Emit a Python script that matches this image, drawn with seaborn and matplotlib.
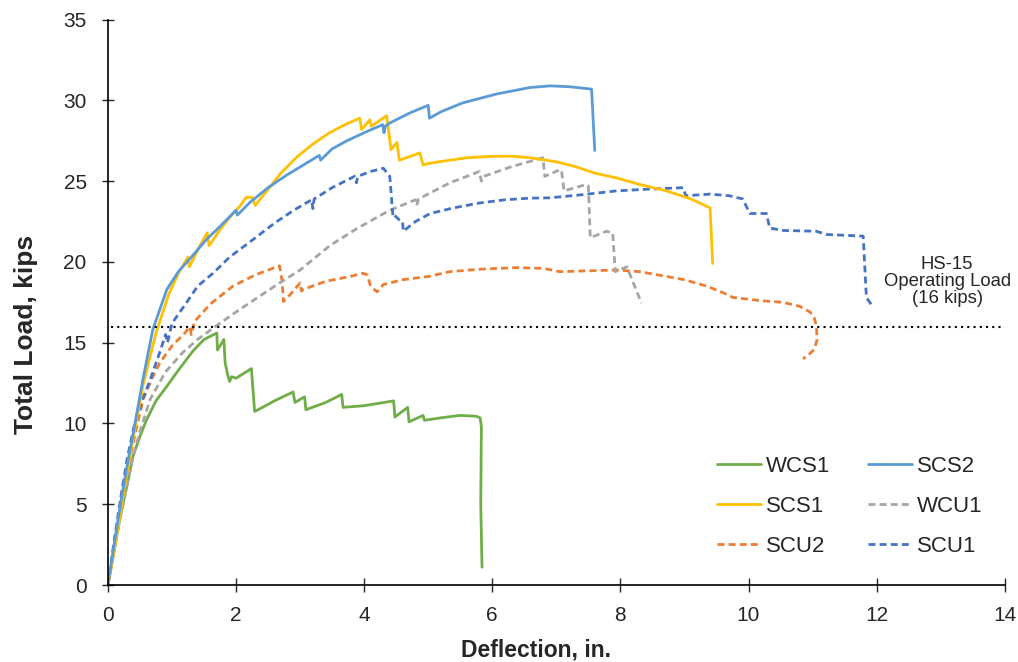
import matplotlib
matplotlib.use("Agg")
import matplotlib.pyplot as plt
import seaborn as sns
import pandas as pd

sns.set_theme(style="white")
plt.rcParams['font.family'] = ['Liberation Sans', 'DejaVu Sans']

# ---- data (deflection in., total load kips) ----
wcs1_x = [0, 0.1, 0.19, 0.3, 0.39, 0.5, 0.6, 0.75, 0.92, 1.1, 1.33, 1.5, 1.70, 1.71, 1.78, 1.81, 1.83, 1.87, 1.9, 1.93, 2.0, 2.24, 2.29, 2.32, 2.6, 2.89, 2.92, 3.07, 3.09, 3.4, 3.65, 3.67, 4.0, 4.4, 4.46, 4.48, 4.68, 4.70, 4.92, 4.94, 5.2, 5.49, 5.75, 5.81, 5.83, 5.82, 5.84]
wcs1_y = [0, 2.2, 4.2, 6.2, 7.95, 9.2, 10.2, 11.4, 12.3, 13.3, 14.5, 15.2, 15.6, 14.55, 15.0, 15.2, 13.75, 13.0, 12.6, 12.9, 12.8, 13.4, 10.75, 10.8, 11.4, 11.95, 11.3, 11.65, 10.85, 11.3, 11.8, 11.0, 11.1, 11.36, 11.4, 10.4, 11.0, 10.1, 10.5, 10.2, 10.35, 10.5, 10.45, 10.35, 9.8, 5.0, 1.1]

scs2_x = [0, 0.1, 0.2, 0.3, 0.4, 0.55, 0.7, 0.92, 1.1, 1.28, 1.54, 1.75, 1.9, 2.0, 2.02, 2.22, 2.5, 2.8, 3.05, 3.3, 3.32, 3.5, 3.73, 4.0, 4.29, 4.31, 4.33, 4.40, 4.7, 5.0, 5.02, 5.2, 5.54, 6.07, 6.59, 6.9, 7.2, 7.55, 7.6]
scs2_y = [0, 2.6, 5.1, 7.4, 9.5, 12.8, 15.8, 18.3, 19.4, 20.2, 21.4, 22.2, 22.8, 23.2, 22.9, 23.7, 24.6, 25.4, 26.0, 26.6, 26.3, 27.0, 27.5, 28.0, 28.5, 28.0, 28.4, 28.6, 29.2, 29.7, 28.9, 29.3, 29.85, 30.4, 30.8, 30.9, 30.85, 30.7, 26.9]

scs1_x = [0, 0.1, 0.2, 0.3, 0.4, 0.55, 0.75, 0.95, 1.1, 1.25, 1.27, 1.45, 1.55, 1.58, 1.75, 1.95, 2.05, 2.16, 2.25, 2.3, 2.5, 2.7, 2.95, 3.2, 3.46, 3.7, 3.93, 3.96, 4.09, 4.11, 4.35, 4.42, 4.51, 4.55, 4.87, 4.92, 5.0, 5.34, 5.6, 6.0, 6.3, 6.6, 7.0, 7.3, 7.6, 7.94, 8.3, 8.72, 9.1, 9.40, 9.44]
scs1_y = [0, 2.2, 4.6, 7.0, 9.2, 12.4, 15.6, 18.0, 19.3, 20.3, 19.7, 21.1, 21.8, 21.0, 22.0, 23.0, 23.4, 24.0, 24.0, 23.5, 24.5, 25.5, 26.5, 27.3, 28.0, 28.5, 28.9, 28.2, 28.8, 28.4, 29.05, 26.95, 27.4, 26.3, 26.75, 26.0, 26.1, 26.3, 26.45, 26.54, 26.55, 26.45, 26.2, 25.9, 25.5, 25.2, 24.8, 24.4, 23.9, 23.35, 19.9]

wcu1_x = [0, 0.1, 0.2, 0.3, 0.39, 0.5, 0.66, 0.9, 1.17, 1.4, 1.64, 2.0, 2.3, 2.68, 3.0, 3.46, 3.9, 4.4, 4.8, 4.82, 4.85, 5.34, 5.8, 5.83, 5.87, 6.3, 6.79, 6.82, 7.05, 7.08, 7.12, 7.47, 7.5, 7.53, 7.78, 7.88, 7.92, 8.1, 8.33]
wcu1_y = [0, 2.2, 4.3, 6.2, 7.9, 9.5, 11.5, 13.2, 14.4, 15.2, 15.9, 16.9, 17.7, 18.7, 19.5, 21.0, 22.1, 23.2, 23.85, 23.5, 23.9, 24.9, 25.6, 25.0, 25.3, 25.9, 26.45, 25.3, 25.7, 25.7, 24.4, 24.8, 24.7, 21.5, 21.9, 21.8, 19.4, 19.7, 17.45]

scu2_x = [0, 0.1, 0.2, 0.29, 0.4, 0.55, 0.7, 0.81, 1.0, 1.2, 1.28, 1.3, 1.35, 1.6, 1.95, 2.3, 2.68, 2.72, 2.74, 2.85, 3.0, 3.02, 3.05, 3.4, 3.78, 3.98, 4.05, 4.1, 4.2, 4.3, 4.6, 5.0, 5.34, 5.8, 6.38, 6.8, 7.05, 7.5, 7.94, 8.3, 8.72, 9.0, 9.35, 9.6, 9.76, 10.2, 10.54, 10.8, 10.96, 11.03, 11.06, 11.07, 11.03, 10.95, 10.85]
scu2_y = [0, 2.4, 4.8, 6.9, 8.9, 11.5, 12.9, 13.75, 14.8, 15.6, 16.0, 15.5, 16.3, 17.4, 18.5, 19.2, 19.76, 18.8, 17.55, 18.0, 18.7, 18.2, 18.3, 18.8, 19.1, 19.3, 19.2, 18.5, 18.15, 18.6, 18.9, 19.1, 19.4, 19.55, 19.65, 19.6, 19.4, 19.45, 19.5, 19.4, 19.1, 18.9, 18.5, 18.1, 17.8, 17.6, 17.5, 17.25, 16.9, 16.5, 16.0, 15.2, 14.6, 14.3, 14.0]

scu1_x = [0, 0.1, 0.2, 0.3, 0.4, 0.55, 0.66, 0.8, 0.9, 0.93, 1.0, 1.23, 1.4, 1.64, 1.9, 2.27, 2.6, 2.9, 3.18, 3.2, 3.22, 3.5, 3.85, 3.88, 3.9, 4.1, 4.3, 4.4, 4.45, 4.47, 4.55, 4.6, 4.61, 4.8, 5.03, 5.4, 5.8, 6.2, 6.59, 6.9, 7.37, 7.94, 8.4, 8.98, 9.02, 9.4, 9.7, 9.91, 10.02, 10.28, 10.33, 10.54, 11.06, 11.22, 11.79, 11.84, 11.92]
scu1_y = [0, 2.8, 5.4, 7.8, 9.7, 11.6, 12.7, 14.3, 15.5, 15.0, 16.2, 17.5, 18.5, 19.3, 20.3, 21.4, 22.4, 23.2, 23.85, 23.3, 23.9, 24.6, 25.3, 24.9, 25.3, 25.6, 25.8, 25.3, 22.8, 22.9, 22.6, 22.5, 21.9, 22.5, 23.0, 23.35, 23.65, 23.85, 23.95, 23.97, 24.15, 24.4, 24.5, 24.6, 24.1, 24.2, 24.1, 23.9, 23.0, 23.0, 22.1, 21.95, 21.9, 21.7, 21.6, 17.8, 17.35]

operating_load = 16
x_ticks = [0, 2, 4, 6, 8, 10, 12, 14]
y_ticks = [0, 5, 10, 15, 20, 25, 30, 35]

series = [
    ("WCS1", wcs1_x, wcs1_y, "#70AD47", "-"),
    ("SCS1", scs1_x, scs1_y, "#FFC000", "-"),
    ("SCU2", scu2_x, scu2_y, "#ED7D31", "--"),
    ("SCS2", scs2_x, scs2_y, "#5B9BD5", "-"),
    ("WCU1", wcu1_x, wcu1_y, "#A5A5A5", "--"),
    ("SCU1", scu1_x, scu1_y, "#4472C4", "--"),
]

fig = plt.figure(figsize=(10.18, 6.62), dpi=100)
ax = fig.add_axes([0.106, 0.1163, 0.881, 0.854])

draw_order = ["WCS1", "SCU2", "WCU1", "SCU1", "SCS1", "SCS2"]
lookup = {s[0]: s for s in series}
for name in draw_order:
    n, xs, ys, c, ls = lookup[name]
    df = pd.DataFrame({"x": xs, "y": ys})
    sns.lineplot(data=df, x="x", y="y", sort=False, estimator=None, ax=ax,
                 color=c, linewidth=2.0)
    ln = ax.lines[-1]
    ln.set_label(n)
    if ls == "--":
        ln.set_dashes((2.5, 1.5))

ax.axhline(operating_load, color="black", linestyle=(0, (1, 2)), linewidth=1.5,
           xmin=0.003, xmax=0.998)
ax.text(13.1, 18.8, "HS-15\nOperating Load\n(16 kips)", ha="center", va="center",
        fontsize=13.3, linespacing=1.0)

ax.set_xlim(0, 14)
ax.set_ylim(0, 35)
ax.set_xticks(x_ticks)
ax.set_yticks(y_ticks)
ax.tick_params(axis="x", direction="inout", length=10, width=1, labelsize=15, pad=10, bottom=True)
ax.tick_params(axis="y", direction="inout", length=8.5, width=1, labelsize=15, pad=11, left=True)
for s in ["top", "right"]:
    ax.spines[s].set_visible(False)
for s in ["left", "bottom"]:
    ax.spines[s].set_color("black")
    ax.spines[s].set_linewidth(1.2)

ax.set_xlabel("Deflection, in.", fontsize=16.5, fontweight="bold")
ax.set_ylabel("Total Load, kips", fontsize=19, fontweight="bold")
ax.xaxis.set_label_coords(0.477, -0.095)
ax.yaxis.set_label_coords(-0.078, 0.4425)

handles = {l.get_label(): l for l in ax.lines}
order = ["WCS1", "SCS1", "SCU2", "SCS2", "WCU1", "SCU1"]
ax.legend([handles[o] for o in order], order, ncol=2, loc="lower right",
          bbox_to_anchor=(0.975, 0.05), borderaxespad=0, borderpad=0, frameon=False,
          fontsize=16, handlelength=2.0, handletextpad=0.2, columnspacing=1.7,
          labelspacing=0.85)

fig.savefig("out.png", dpi=100)
